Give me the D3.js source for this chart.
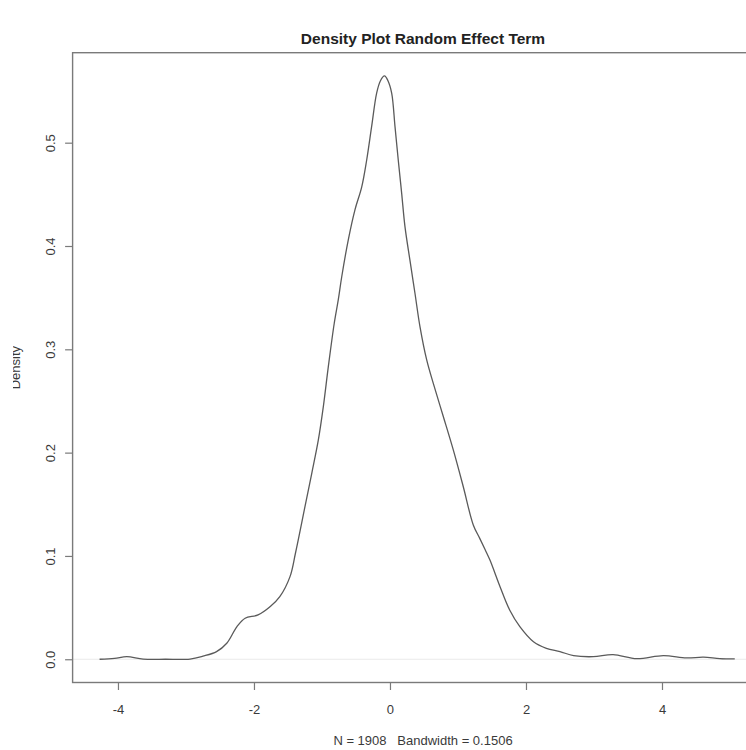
<!DOCTYPE html>
<html>
<head>
<meta charset="utf-8">
<script src="https://cdn.jsdelivr.net/npm/d3@7"></script>
<style>
  html, body { margin: 0; padding: 0; background: #fff; }
  svg { display: block; }
  text { font-family: "Liberation Sans", Arial, Helvetica, sans-serif; white-space: pre; }
</style>
</head>
<body>
<div id="chart"></div>
<script>
// ---- data ----
const xValues = [-4.27, -4.05, -3.87, -3.63, -3.30, -2.94, -2.75, -2.55, -2.40, -2.25,
  -2.13, -1.94, -1.76, -1.62, -1.47, -1.39, -1.25, -1.15, -1.054, -0.98,
  -0.907, -0.82, -0.76, -0.71, -0.613, -0.515, -0.416, -0.343, -0.27, -0.196,
  -0.14, -0.08, -0.03, 0.025, 0.074, 0.122, 0.172, 0.22, 0.294, 0.368,
  0.441, 0.54, 0.637, 0.784, 0.931, 1.078, 1.225, 1.32, 1.40, 1.47,
  1.62, 1.76, 1.91, 2.11, 2.30, 2.50, 2.70, 2.99, 3.28, 3.63,
  4.02, 4.36, 4.61, 4.85, 5.07];
const densityValues = [0.0000, 0.0008, 0.0025, 0.0002, 0.0000, 0.0002, 0.0030, 0.0074, 0.0155, 0.0316,
  0.0397, 0.0429, 0.0510, 0.0606, 0.0800, 0.1026, 0.1477, 0.1800, 0.2120, 0.2445,
  0.2830, 0.3250, 0.3480, 0.3700, 0.4060, 0.4350, 0.4570, 0.4830, 0.5155, 0.5480,
  0.5600, 0.5646, 0.5600, 0.5480, 0.5155, 0.4830, 0.4510, 0.4190, 0.3860, 0.3540,
  0.3220, 0.2897, 0.2670, 0.2350, 0.2026, 0.1670, 0.1300, 0.1170, 0.1060, 0.0960,
  0.0700, 0.0477, 0.0316, 0.0170, 0.0106, 0.0074, 0.0035, 0.0025, 0.0045, 0.0006,
  0.0035, 0.0013, 0.0020, 0.0006, 0.0003];
const xTicks = [-4, -2, 0, 2, 4];
const yTicks = [0.0, 0.1, 0.2, 0.3, 0.4, 0.5];
const titleText = "Density Plot Random Effect Term";
const xLabel = "N = 1908   Bandwidth = 0.1506";
const yLabel = "Density";

// ---- layout ----
const W = 746, H = 750;
const xDomain = [-4.667, 5.45];
const yDomain = [-0.0225, 0.5871];
const box = { left: 72.6, right: 760.6, top: 52.7, bottom: 682.5 };
const labelCenterX = 423;
const fs = 13;

const svg = d3.select("#chart").append("svg")
  .attr("width", W).attr("height", H);

const x = d3.scaleLinear().domain(xDomain).range([box.left, box.right]);
const y = d3.scaleLinear().domain(yDomain).range([box.bottom, box.top]);

const axisColor = "#7a7a7a";
const textColor = "#3a3a3a";

// zero line
svg.append("line")
  .attr("x1", box.left).attr("x2", box.right)
  .attr("y1", y(0)).attr("y2", y(0))
  .attr("stroke", "#e4e4e4").attr("stroke-width", 0.8);

// density curve
const pts = xValues.map((v, i) => [v, densityValues[i]]);
svg.append("path")
  .datum(pts)
  .attr("fill", "none")
  .attr("stroke", "#5a5a5a")
  .attr("stroke-width", 1.3)
  .attr("d", d3.line().x(d => x(d[0])).y(d => y(d[1])).curve(d3.curveCatmullRom.alpha(0.5)));

// box
svg.append("rect")
  .attr("x", box.left).attr("y", box.top)
  .attr("width", box.right - box.left).attr("height", box.bottom - box.top)
  .attr("fill", "none").attr("stroke", axisColor).attr("stroke-width", 1.4);

// x axis
const xAxis = d3.axisBottom(x).tickValues(xTicks).tickSize(7.5).tickPadding(15)
  .tickFormat(d => d < 0 ? "-" + Math.abs(d) : String(d));
const gx = svg.append("g").attr("transform", `translate(0,${box.bottom})`).call(xAxis);
gx.select(".domain").remove();
gx.selectAll(".tick line").attr("stroke", axisColor).attr("stroke-width", 1.2);
gx.selectAll(".tick text").attr("fill", textColor).attr("font-size", fs)
  .attr("font-family", "Liberation Sans, Arial, sans-serif");

// y axis
const yAxis = d3.axisLeft(y).tickValues(yTicks).tickSize(7.5).tickFormat(d3.format(".1f"));
const gy = svg.append("g").attr("transform", `translate(${box.left},0)`).call(yAxis);
gy.select(".domain").remove();
gy.selectAll(".tick line").attr("stroke", axisColor).attr("stroke-width", 1.2);
gy.selectAll(".tick text")
  .attr("fill", textColor).attr("font-size", fs)
  .attr("font-family", "Liberation Sans, Arial, sans-serif")
  .attr("x", null).attr("dy", null)
  .attr("text-anchor", "middle")
  .attr("transform", "translate(-18,0) rotate(-90)");

// title
svg.append("text")
  .attr("x", labelCenterX).attr("y", 44)
  .attr("text-anchor", "middle")
  .attr("font-size", 15.5).attr("font-weight", "bold")
  .attr("fill", "#222")
  .text(titleText);

// x label
svg.append("text")
  .attr("x", labelCenterX).attr("y", 745)
  .attr("text-anchor", "middle")
  .attr("font-size", fs).attr("fill", textColor)
  .attr("xml:space", "preserve")
  .text(xLabel);

// y label (partially cut off in the reference)
svg.append("clipPath").attr("id", "ylabclip")
  .append("rect").attr("x", 13).attr("y", 0).attr("width", 40).attr("height", H);
svg.append("g").attr("clip-path", "url(#ylabclip)")
  .append("text")
  .attr("transform", `translate(19.5,${(box.top + box.bottom) / 2}) rotate(-90)`)
  .attr("text-anchor", "middle")
  .attr("font-size", fs).attr("fill", textColor)
  .text(yLabel);
</script>
</body>
</html>
